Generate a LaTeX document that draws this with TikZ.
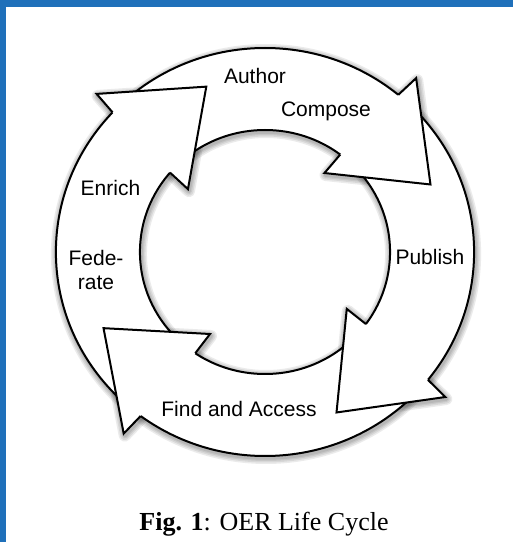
\documentclass[tikz,border=0pt]{standalone}
\usepackage{fontspec}
\setmainfont{Liberation Serif}
\newfontfamily\lab{Liberation Sans}
\definecolor{frameblue}{RGB}{31,112,186}
\newcommand\headtri[1]{(#1+27.7:204) -- (#1+27:228) -- (#1:175) -- (#1+31:98) -- (#1+30.3:122)}
\begin{document}
\begin{tikzpicture}[x=1pt,y=1pt,
  lbl/.style={font=\lab\fontsize{21}{24}\selectfont, inner sep=0pt, anchor=base},
  ringline/.style={line width=2pt, line join=miter, draw=black},
  shade/.style={draw=black, opacity=0.08, line join=round}]
\useasboundingbox (0,0) rectangle (513,542);
\fill[white] (0,0) rectangle (513,542);
\fill[frameblue] (0,535) rectangle (513,542);
\fill[frameblue] (0,0) rectangle (6,542);

\begin{scope}[shift={(265,290)}, xscale=1.025]
  % soft shadow
  \begin{scope}[shift={(1,-2)}]
    \foreach \w in {12,9,6,3.5}{
      \draw[shade, line width=\w pt] (0,0) circle[radius=204];
      \draw[shade, line width=\w pt] (0,0) circle[radius=122];
      \foreach \t in {22.7,-66.5,205.8,109.1}{
        \draw[shade, line width=\w pt] \headtri{\t} -- cycle;
      }
    }
  \end{scope}
  % white body
  \fill[white, even odd rule] (0,0) circle[radius=204] (0,0) circle[radius=122];
  \foreach \t in {22.7,-66.5,205.8,109.1}{
    \fill[white] \headtri{\t} -- cycle;
  }
  % ring lines
  \draw[ringline] (0,0) circle[radius=204];
  \draw[ringline] (0,0) circle[radius=122];
  % arrow heads
  \foreach \t in {22.7,-66.5,205.8,109.1}{
    \fill[white] \headtri{\t} -- cycle;
    \draw[ringline] \headtri{\t};
  }
\end{scope}

\node[lbl] (author) at (255,458) {Author};
\node[lbl] (compose) at (326,425) {Compose};
\node[lbl] (enrich) at (110.5,346) {Enrich};
\node[lbl] (fede) at (96,276) {Fede-};
\node[lbl] (rate) at (96,252) {rate};
\node[lbl] (publish) at (430,277) {Publish};
\node[lbl] (find) at (239,125) {Find and Access};
\node[inner sep=0pt, anchor=base, font=\fontsize{26}{30}\selectfont] (caption) at (264,12) {\textbf{Fig. 1}: OER Life Cycle};
\end{tikzpicture}
\end{document}
